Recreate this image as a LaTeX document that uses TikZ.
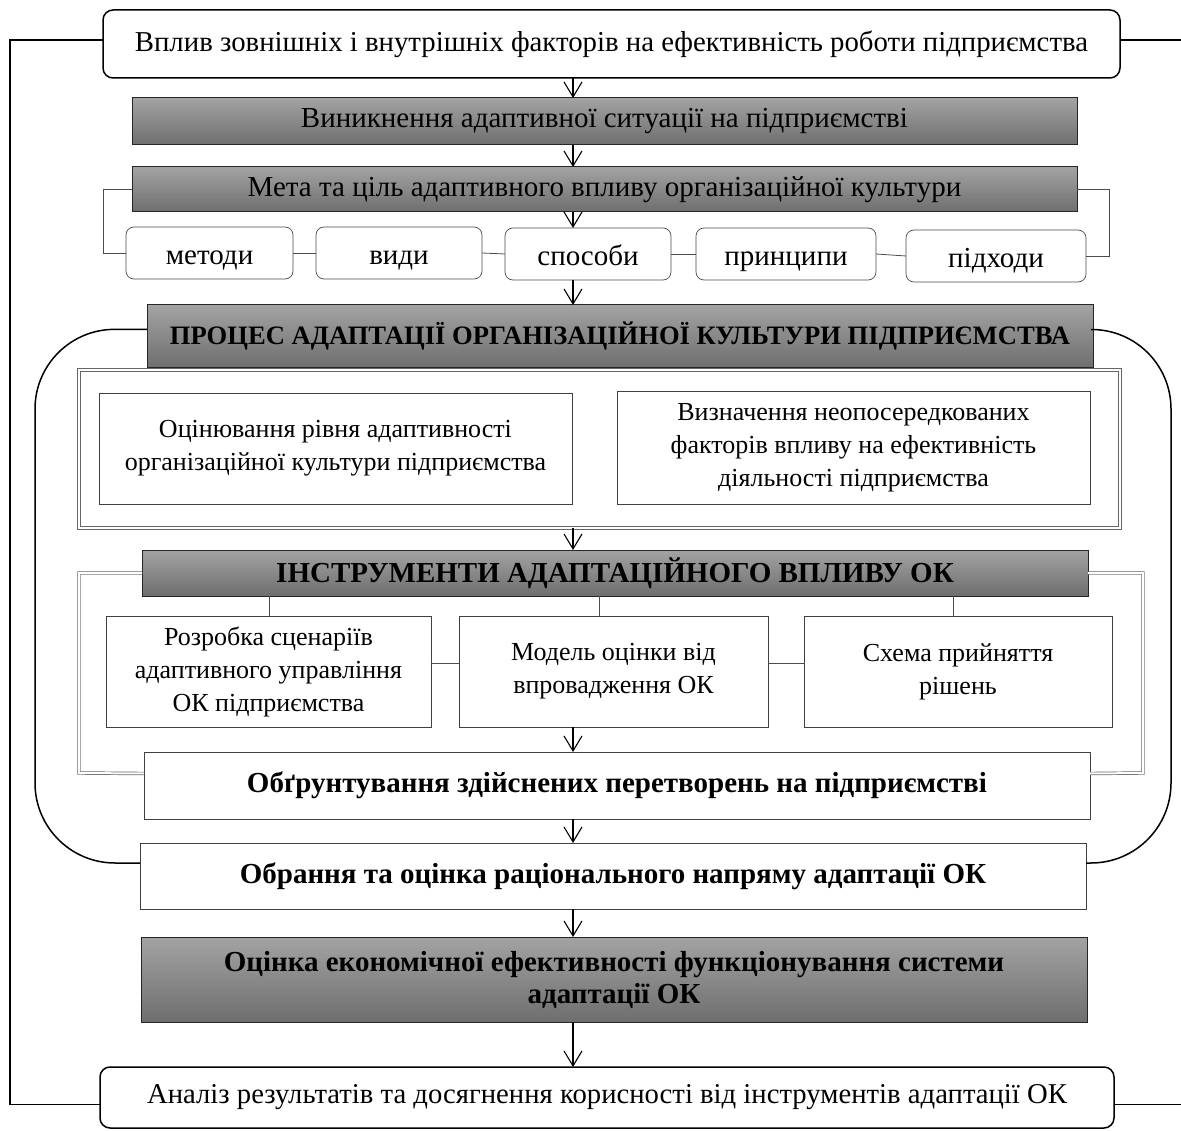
\documentclass[tikz,border=0pt]{standalone}
\usepackage{fontspec}
\setmainfont{Liberation Serif}
\usetikzlibrary{arrows.meta,calc}
\definecolor{gtop}{HTML}{A3A3A3}
\definecolor{gbot}{HTML}{6E6E6E}
\begin{document}
\begin{tikzpicture}[x=1pt,y=-1pt,
  base/.style={inner sep=0pt, outer sep=0pt, align=center, font=\fontsize{26}{33}\selectfont},
  big/.style={font=\fontsize{29}{33}\selectfont},
  bigb/.style={font=\fontsize{29}{32}\selectfont\bfseries},
  rbox/.style={base, draw, line width=1.5pt, rounded corners=10pt, fill=white},
  gbox/.style={base, draw=black!85, line width=1pt, top color=gtop, bottom color=gbot},
  sbox/.style={base, big, draw=black!70, line width=0.7pt, fill=white, rounded corners=8pt, text height=24pt, text depth=0pt},
  wbox/.style={base, draw=black!75, line width=0.8pt, fill=white},
  dframe/.style={draw=black!60, line width=0.7pt, double, double distance=2pt},
  arr/.style={-{Straight Barb[length=15pt,width=18pt,line width=1.1pt]}, line width=1.1pt},
  conn/.style={draw=black!70, line width=0.8pt},
  fb/.style={draw, line width=1.5pt}
]
\useasboundingbox (0,0) rectangle (1181,1131);
\coordinate (ax) at (573,0);
\coordinate (fl) at (10,0);
\coordinate (fr) at (1181,0);

% big rounded frame (behind)
\node[gbox, font=\fontsize{26.6}{30}\selectfont\bfseries, minimum width=946pt, minimum height=63pt] (G3) at (620,336.5) {ПРОЦЕС АДАПТАЦІЇ ОРГАНІЗАЦІЙНОЇ КУЛЬТУРИ ПІДПРИЄМСТВА};
\node[wbox, bigb, minimum width=946pt, minimum height=66pt] (O2) at (613,876) {Обрання та оцінка раціонального напряму адаптації ОК};
\draw[fb, rounded corners=80pt] ([yshift=7pt]G3.west) -- (35,329) -- (35,863) -- ([yshift=13pt]O2.west);
\draw[fb, rounded corners=80pt] ([yshift=7pt]G3.east) -- (1171,329) -- (1171,863) -- ([yshift=13pt]O2.east);

% top
\node[rbox, font=\fontsize{28.8}{33}\selectfont, minimum width=1017pt, minimum height=68pt] (T) at (611.5,44) {Вплив зовнішніх і внутрішніх факторів на ефективність роботи підприємства};
\node[gbox, big, minimum width=945pt, minimum height=47pt] (G1) at (604.5,121.5) {Виникнення адаптивної ситуації на підприємстві};
\node[gbox, big, minimum width=945pt, minimum height=45pt] (G2) at (604.5,189.5) {Мета та ціль адаптивного впливу організаційної культури};

% small boxes
\node[sbox, minimum width=167pt, minimum height=52pt] (m1) at (209.5,253) {методи};
\node[sbox, minimum width=166pt, minimum height=52pt] (m2) at (399,253) {види};
\node[sbox, minimum width=166pt, minimum height=52pt] (m3) at (588,254) {способи};
\node[sbox, minimum width=180pt, minimum height=52pt] (m4) at (786,254) {принципи};
\node[sbox, minimum width=180pt, minimum height=52pt] (m5) at (996,256) {підходи};
\draw[conn] (m1.east) -- (m2.west);
\draw[conn] (m2.east) -- (m3.west);
\draw[conn] (m3.east) -- (m4.west);
\draw[conn] (m4.east) -- (m5.west);
\draw[conn] (G2.west) -- ++(-29,0) |- (m1.west);
\draw[conn] (G2.east) -- ++(32,0) |- (m5.east);

% panel 1
\node[base, dframe, fill=white, minimum width=1041pt, minimum height=158pt] (P1) at (599.5,449) {};
\node[wbox, minimum width=473pt, minimum height=111pt] (A) at (335.5,448.5) {Оцінювання рівня адаптивності\\організаційної культури підприємства};
\node[wbox, minimum width=473pt, minimum height=113pt] (B) at (853.5,447.5) {Визначення неопосередкованих\\факторів впливу на ефективність\\діяльності підприємства};

% tools
\node[gbox, bigb, minimum width=946pt, minimum height=46pt] (G4) at (615,573) {ІНСТРУМЕНТИ АДАПТАЦІЙНОГО ВПЛИВУ ОК};
\node[wbox, minimum width=325pt, minimum height=111pt] (t1) at (268.5,671.5) {Розробка сценаріїв\\адаптивного управління\\ОК підприємства};
\node[wbox, minimum width=309pt, minimum height=111pt] (t2) at (613.5,671.5) {Модель оцінки від\\впровадження ОК};
\node[wbox, minimum width=308pt, minimum height=111pt] (t3) at (958,671.5) {Схема прийняття\\рішень};
\node[wbox, bigb, minimum width=946pt, minimum height=67pt] (O1) at (617,785.5) {Обґрунтування здійснених перетворень на підприємстві};
\draw[dframe] (G4.west) -- (79,573) -- (79,773) -- ([yshift=12pt]O1.west);
\draw[dframe] (G4.east) -- (1143,573) -- (1143,773) -- ([yshift=12pt]O1.east);
\draw[conn] (G4.south -| 269,0) -- (t1.north -| 269,0);
\draw[conn] (G4.south -| 599,0) -- (t2.north -| 599,0);
\draw[conn] (G4.south -| 953,0) -- (t3.north -| 953,0);
\draw[conn] ([yshift=8pt]t1.east) -- ([yshift=8pt]t2.west);
\draw[conn] ([yshift=8pt]t2.east) -- ([yshift=8pt]t3.west);

% bottom
\node[gbox, bigb, minimum width=946pt, minimum height=85pt] (G5) at (614,979.5) {Оцінка економічної ефективності функціонування системи\\адаптації ОК};
\node[rbox, font=\fontsize{28.7}{33}\selectfont, minimum width=1014pt, minimum height=61pt] (Bt) at (607,1097.5) {Аналіз результатів та досягнення корисності від інструментів адаптації ОК};

% arrows
\draw[arr] (T.south -| ax) -- (G1.north -| ax);
\draw[arr] (G1.south -| ax) -- (G2.north -| ax);
\draw[arr] (G2.south -| ax) -- (m3.north -| ax);
\draw[arr] (m3.south -| ax) -- (G3.north -| ax);
\draw[arr] (P1.south -| ax) -- (G4.north -| ax);
\draw[arr] (t2.south -| ax) -- (O1.north -| ax);
\draw[arr] (O1.south -| ax) -- (O2.north -| ax);
\draw[arr] (O2.south -| ax) -- (G5.north -| ax);
\draw[arr] (G5.south -| ax) -- (Bt.north -| ax);

% feedback
\draw[fb] ([yshift=4pt]T.west) -- ([yshift=4pt]T.west -| fl) -- ([yshift=-7pt]Bt.west -| fl) -- ([yshift=-7pt]Bt.west);
\draw[fb] ([yshift=4pt]T.east) -- ([yshift=4pt]T.east -| fr);
\draw[fb] ([yshift=-7pt]Bt.east) -- ([yshift=-7pt]Bt.east -| fr);
\end{tikzpicture}
\end{document}
